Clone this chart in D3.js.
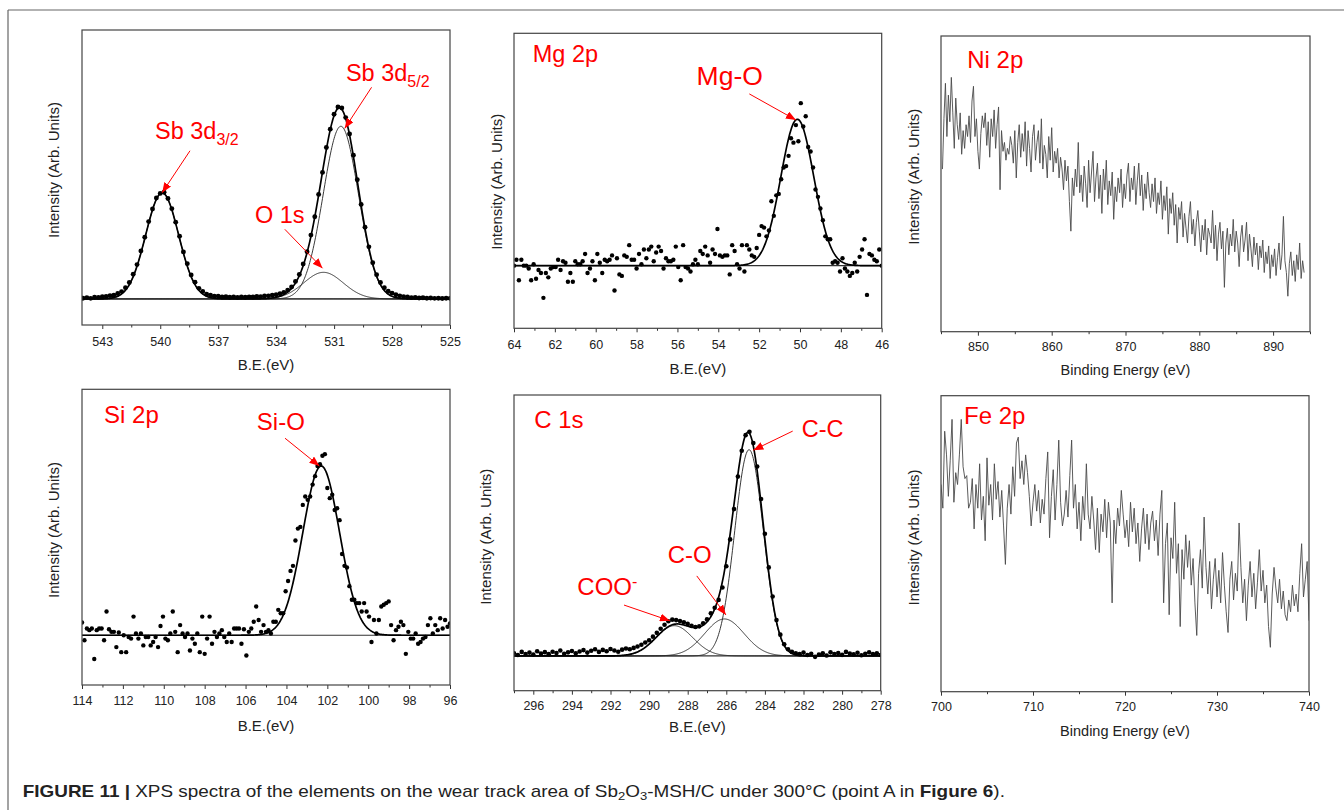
<!DOCTYPE html>
<html>
<head>
<meta charset="utf-8">
<script src="https://cdn.jsdelivr.net/npm/d3@7"></script>
<style>
  body { margin: 0; background: #fff; }
  svg text { font-family: "Liberation Sans", Arial, sans-serif; }
</style>
</head>
<body>
<svg id="fig" width="1344" height="810"></svg>
<script>
// ---- data ----

// Sb 3d / O 1s  (B.E. grid: start, step)
const sbStart = 544.0, sbStep = -0.2;
const sbCounts = [
  0.004,0.007,0.003,0.009,0.008,0.012,0.013,0.017,0.019,0.028,
  0.038,0.058,0.085,0.128,0.178,0.249,0.320,0.401,0.466,0.523,
  0.547,0.553,0.521,0.468,0.398,0.325,0.244,0.183,0.124,0.087,
  0.055,0.039,0.025,0.020,0.014,0.014,0.011,0.012,0.009,0.011,
  0.008,0.011,0.009,0.011,0.010,0.013,0.012,0.015,0.016,0.019,
  0.022,0.027,0.034,0.046,0.062,0.091,0.127,0.181,0.245,0.331,
  0.426,0.542,0.656,0.785,0.880,0.957,0.995,0.990,0.940,0.855,
  0.745,0.618,0.490,0.372,0.270,0.188,0.126,0.085,0.058,0.040,
  0.030,0.022,0.016,0.012,0.010,0.007,0.008,0.005,0.006,0.004,
  0.005,0.003,0.004,0.002,0.004,0.003
];
const sbPeakCenter = [539.9, 530.65, 531.55];
const sbPeakHeight = [0.55, 0.895, 0.138];
const sbPeakFwhm   = [2.0, 2.15, 2.4];

// Mg 2p
const mgStart = 64.0, mgStep = -0.12;
const mgCounts = [
  0.00,0.04,-0.10,0.04,0.00,0.00,-0.02,-0.10,0.01,-0.09,-0.03,
  -0.05,-0.22,-0.05,-0.08,-0.02,-0.01,-0.01,0.04,-0.03,0.03,
  0.02,
  -0.11,-0.05,-0.11,0.03,0.01,0.01,0.03,0.08,-0.05,-0.02,
  0.03,-0.10,0.08,0.02,-0.05,0.04,0.03,0.04,0.07,-0.17,
  0.05,
  -0.06,-0.07,0.07,0.06,0.14,0.04,0.04,-0.02,0.08,0.01,
  0.11,0.05,0.11,0.13,0.03,
  0.09,
  0.13,0.10,-0.02,0.05,0.03,
  0.03,0.04,0.13,-0.01,-0.10,0.14,-0.01,-0.02,-0.04,0.01,
  0.04,
  0.01,0.10,0.08,0.13,0.07,0.02,0.11,0.08,0.25,0.07,
  0.06,0.07,0.07,-0.06,0.14,
  0.10,
  0.01,-0.02,0.14,-0.04,0.14,
  0.11,0.07,0.06,
  0.12,
  0.21,0.27,0.26,0.20,0.24,0.44,0.34,0.48,0.49,0.59,
  0.67,0.68,0.75,0.87,0.84,0.96,0.85,1.11,0.95,1.02,
  0.81,0.78,0.67,0.52,0.47,0.39,0.31,0.20,0.18,0.18,
  0.02,0.03,
  0.02,-0.04,0.05,-0.02,-0.04,-0.07,-0.05,0.02,-0.04,0.06,
  0.11,0.18,-0.20,0.08,0.07,0.04,0.03,0.11,0.00
];
const mgPeakCenter = [50.13];
const mgPeakHeight = [1.0];
const mgPeakFwhm   = [1.9];

// Ni 2p
const niStart = 845.2, niStep = 0.2;
const niCounts = [
  55,72,84,66,
  80,71,86,74,62, 79,70,65,74,60, 68,62,70,66,73, 64,78,83,66,72,
  61,55,67,73,69, 74,63,71,59,72, 66,75,62,70,76, 48,68,61,64,58,
  62,60,66,63,57, 68,52,64,70,59, 67,61,71,56,68, 62,54,66,70,58,
  64,68,57,72,55, 63,60,52,66,58, 69,54,61,57,62, 52,59,55,48,58,
  51,56,44,34,52, 46,55,49,64,47, 53,44,56,50,42, 58,47,54,61,44,
  52,57,45,53,40, 55,48,58,43,51, 46,54,38,49,44, 52,47,55,42,50,
  45,53,57,44,52, 48,56,43,51,57, 46,53,41,50,45, 54,47,42,50,44,
  52,40,47,43,51, 38,46,41,49,33, 45,40,47,36,43, 30,42,38,44,32,
  40,35,30,39,44, 33,38,29,37,41, 34,27,36,31,38, 26,35,33,30,41,
  28,36,24,33,37, 28,34,15,30,35, 26,33,29,38,27, 34,30,22,32,36,
  27,31,37,24,33, 28,22,32,26,30, 21,29,25,31,20, 27,23,29,18,26,
  22,28,19,25,30, 21,26,39,24,20, 12,23,27,19,24, 17,26,21,30,18,
  24,20
];

// Si 2p
const siStart = 114.0, siStep = -0.12;
const siCounts = [
  0.075,-0.03,0.04,0.03,0.04,-0.14,0.03,0.04,0.04,-0.03,
  0.14,0.035,0.02,0.02,-0.07,0.016,-0.10,0.00,-0.10,-0.01,
  -0.02,0.11,0.01,-0.02,0.01,-0.06,-0.01,-0.01,-0.06,-0.04,
  -0.01,-0.07,0.055,0.11,-0.02,-0.03,0.01,0.14,0.02,-0.10,
  0.06,0.01,-0.01,0.01,-0.09,-0.02,-0.05,0.01,-0.10,0.11,
  -0.11,-0.02,0.11,-0.05,0.02,-0.01,0.01,0.03,-0.01,-0.04,
  0.01,-0.04,0.04,0.04,0.04,-0.05,0.035,-0.12,0.02,0.04,
  0.08,0.17,0.09,0.02,0.06,0.02,0.03,0.01,0.08,0.08,
  0.15,0.13,0.13,0.26,0.32,0.38,0.41,0.56,0.63,0.64,
  0.77,0.82,0.80,0.82,0.89,0.94,1.00,1.01,1.06,1.07,
  0.87,0.81,0.83,0.74,0.75,0.68,0.48,0.41,0.40,0.29,
  0.21,0.21,0.19,0.19,0.14,0.19,0.14,0.11,-0.04,0.09,
  0.01,0.09,0.17,0.18,0.19,0.20,0.06,-0.03,0.03,0.05,
  0.08,0.06,-0.11,0.02,-0.02,-0.02,0.01,-0.05,-0.04,-0.02,
  -0.01,0.06,0.10,0.01,0.06,0.03,0.10,0.04,0.09,0.05,
  0.07
];
const siPeakCenter = [102.3];
const siPeakHeight = [1.0];
const siPeakFwhm   = [2.12];

// C 1s
const cStart = 297.0, cStep = -0.2;
const cCounts = [
  0.012,0.004,0.018,0.009,0.015,0.006,0.021,0.011,0.017,0.008,
  0.019,0.013,0.024,0.010,0.016,0.022,0.012,0.020,0.026,0.015,
  0.023,0.030,0.018,0.027,0.021,0.031,0.024,0.019,0.028,0.033,
  0.030,0.036,0.042,0.050,0.060,0.070,0.086,0.103,0.121,0.139,
  0.155,0.162,0.160,0.156,0.150,0.143,0.134,0.129,0.132,0.146,
  0.163,0.190,0.215,0.250,0.305,0.400,0.520,0.655,0.800,0.915,
  0.985,1.000,0.950,0.845,0.700,0.545,0.395,0.265,0.160,0.095,
  0.052,0.030,0.018,
  0.012,0.008,0.015,0.004,0.010,-0.004,0.006,0.012,0.002,0.016,
  0.009,0.013,0.005,0.018,0.011,0.007,0.014,0.003,0.010,0.016,
  0.008,0.012,0.004
];
const cPeakCenter = [284.82, 286.1, 288.69];
const cPeakHeight = [0.92, 0.165, 0.135];
const cPeakFwhm   = [1.75, 2.4, 2.24];

// Fe 2p
const feStart = 700.0, feStep = 0.2;
const feCounts = [
  70,62,88,80,66, 78,92,64,74,70, 80,92,76,72,73, 62,64,72,55,70,
  62,77,58,66,51, 79,63,70,58,77, 65,71,59,68,56, 43,62,70,60,76,
  66,84,86,72,78, 70,80,74,66,56, 64,70,61,68,57, 65,60,72,81,52,
  66,75,58,70,85, 64,56,60,68,59, 73,85,62,70,55, 64,51,66,58,77,
  60,55,66,58,48, 62,47,60,54,65, 52,64,57,30,58, 50,62,56,68,60,
  52,58,49,64,54, 62,50,57,44,55, 62,50,60,48,57, 61,51,58,46,60,
  68,30,50,57,26, 52,45,64,40,50, 22,48,38,53,42, 51,36,45,30,19,
  40,48,35,59,42, 33,44,28,38,45, 32,41,30,47,36, 27,20,38,44,31,
  40,34,57,42,30, 38,24,36,44,32, 40,28,37,48,34, 41,30,36,22,15,
  33,42,35,30,38, 28,34,26,24,31, 27,36,29,33,27, 40,50,32,38,44,
  24
];

// ---- drawing ----
const svg = d3.select("#fig");
const defs = svg.append("defs");
const RED = "#ff0000";

defs.append("marker")
    .attr("id", "arr")
    .attr("viewBox", "0 0 10 8")
    .attr("refX", 10).attr("refY", 4)
    .attr("markerWidth", 10).attr("markerHeight", 8)
    .attr("markerUnits", "userSpaceOnUse")
    .attr("orient", "auto")
  .append("path")
    .attr("d", "M0,0L10,4L0,8Z")
    .attr("fill", RED);

// outer frame
svg.append("line").attr("x1", 8).attr("y1", 10).attr("x2", 1344).attr("y2", 10)
    .attr("stroke", "#666").attr("stroke-width", 1.2);
svg.append("line").attr("x1", 8).attr("y1", 10).attr("x2", 8).attr("y2", 810)
    .attr("stroke", "#666").attr("stroke-width", 1.2);

function gauss(e, c, h, w) {
    return h * Math.exp(-4 * Math.LN2 * (e - c) * (e - c) / (w * w));
}

function series(start, step, counts) {
    return counts.map((v, i) => [start + i * step, v]);
}

function setupPanel(p) {
    const x = d3.scaleLinear().domain(p.xDomain).range([p.left, p.right]);
    const y = d3.scaleLinear().domain(p.yDomain).range([p.bottom, p.top]);
    const g = svg.append("g");

    defs.append("clipPath").attr("id", "clip-" + p.id)
      .append("rect")
        .attr("x", p.left).attr("y", p.top)
        .attr("width", p.right - p.left).attr("height", p.bottom - p.top);

    const plot = g.append("g").attr("clip-path", "url(#clip-" + p.id + ")");

    const pad = p.tickLabelY - p.bottom - 4 - 4.4;
    g.append("g")
        .attr("transform", "translate(0," + p.bottom + ")")
        .call(d3.axisBottom(x).tickValues(p.major).tickSize(4).tickPadding(pad).tickFormat(d3.format("d")))
        .call(a => {
            a.select(".domain").remove();
            a.attr("font-size", 12.5);
            a.selectAll("line").attr("stroke", "#333");
            a.selectAll("text").attr("fill", "#222");
        });
    g.append("g")
        .attr("transform", "translate(0," + p.bottom + ")")
        .call(d3.axisBottom(x).tickValues(p.minor).tickSize(2.5).tickFormat(""))
        .call(a => {
            a.select(".domain").remove();
            a.selectAll("line").attr("stroke", "#333");
        });

    g.append("rect")
        .attr("x", p.left).attr("y", p.top)
        .attr("width", p.right - p.left).attr("height", p.bottom - p.top)
        .attr("fill", "none").attr("stroke", "#444").attr("stroke-width", 1.2);

    g.append("text")
        .attr("x", (p.left + p.right) / 2).attr("y", p.xTitleY)
        .attr("dy", "0.35em")
        .attr("text-anchor", "middle")
        .attr("font-size", p.xTitleSize).attr("fill", "#222")
        .text(p.xTitle);

    g.append("text")
        .attr("transform", "translate(" + p.yTitleX + "," + p.yTitleY + ") rotate(-90)")
        .attr("dy", "0.35em")
        .attr("text-anchor", "middle")
        .attr("font-size", 15).attr("fill", "#222")
        .text("Intensity (Arb. Units)");

    return { x, y, g, plot };
}

function drawFit(P, centers, heights, fwhms, components) {
    const [lo, hi] = d3.extent(P.x.domain());
    const xs = d3.range(lo, hi + 0.03, 0.03);
    const line = d3.line().x(d => P.x(d[0])).y(d => P.y(d[1]));

    P.plot.append("line")
        .attr("x1", P.x.range()[0]).attr("x2", P.x.range()[1])
        .attr("y1", P.y(0)).attr("y2", P.y(0))
        .attr("stroke", "#333").attr("stroke-width", 1.2);

    if (components) {
        centers.forEach((c, k) => {
            P.plot.append("path")
                .datum(xs.map(e => [e, gauss(e, c, heights[k], fwhms[k])]))
                .attr("d", line)
                .attr("fill", "none").attr("stroke", "#222").attr("stroke-width", 0.9);
        });
    }
    P.plot.append("path")
        .datum(xs.map(e => [e, d3.sum(centers, (c, k) => gauss(e, c, heights[k], fwhms[k]))]))
        .attr("d", line)
        .attr("fill", "none").attr("stroke", "#000").attr("stroke-width", 1.7);
}

function drawDots(P, data, r) {
    P.plot.append("g").selectAll("circle")
        .data(data)
        .join("circle")
        .attr("cx", d => P.x(d[0]))
        .attr("cy", d => P.y(d[1]))
        .attr("r", r)
        .attr("fill", "#000");
}

function drawTrace(P, data) {
    P.plot.append("path")
        .datum(data)
        .attr("d", d3.line().x(d => P.x(d[0])).y(d => P.y(d[1])))
        .attr("fill", "none").attr("stroke", "#4a4a4a").attr("stroke-width", 0.9);
}

function label(P, spec) {
    const t = P.g.append("text")
        .attr("x", P.x(spec.be)).attr("y", P.y(spec.v))
        .attr("font-size", spec.size).attr("fill", RED)
        .text(spec.text);
    if (spec.sub) {
        t.append("tspan").attr("font-size", 16).attr("dy", 6).text(spec.sub);
    }
    if (spec.sup) {
        t.append("tspan").attr("font-size", 16).attr("dy", -8).text(spec.sup);
    }
}

function arrow(P, from, to) {
    P.g.append("line")
        .attr("x1", P.x(from[0])).attr("y1", P.y(from[1]))
        .attr("x2", P.x(to[0])).attr("y2", P.y(to[1]))
        .attr("stroke", RED).attr("stroke-width", 1)
        .attr("marker-end", "url(#arr)");
}

// --- Sb 3d ---
const pSb = setupPanel({
    id: "sb", left: 82, right: 450, top: 30, bottom: 325,
    xDomain: [544.05, 525], yDomain: [-0.135, 1.394],
    major: [543, 540, 537, 534, 531, 528, 525],
    minor: [541.5, 538.5, 535.5, 532.5, 529.5, 526.5],
    tickLabelY: 341.7, xTitle: "B.E.(eV)", xTitleY: 365, xTitleSize: 15,
    yTitleX: 53.3, yTitleY: 170
});
drawFit(pSb, sbPeakCenter, sbPeakHeight, sbPeakFwhm, true);
drawDots(pSb, series(sbStart, sbStep, sbCounts), 2.45);
label(pSb, { text: "Sb 3d", sub: "5/2", be: 530.39, v: 1.131, size: 23.5 });
label(pSb, { text: "Sb 3d", sub: "3/2", be: 540.27, v: 0.827, size: 23.5 });
label(pSb, { text: "O 1s", be: 535.10, v: 0.395, size: 23.5 });
arrow(pSb, [529.06, 1.097], [530.45, 0.884]);
arrow(pSb, [538.46, 0.768], [539.90, 0.551]);
arrow(pSb, [533.55, 0.361], [531.60, 0.159]);

// --- Mg 2p ---
const pMg = setupPanel({
    id: "mg", left: 514, right: 881.7, top: 33.3, bottom: 328.3,
    xDomain: [64, 46], yDomain: [-0.428, 1.587],
    major: d3.range(64, 45, -2),
    minor: d3.range(63, 46, -2),
    tickLabelY: 345, xTitle: "B.E.(eV)", xTitleY: 368.3, xTitleSize: 15,
    yTitleX: 496.7, yTitleY: 181.7
});
drawFit(pMg, mgPeakCenter, mgPeakHeight, mgPeakFwhm, false);
drawDots(pMg, series(mgStart, mgStep, mgCounts), 2.2);
label(pMg, { text: "Mg 2p", be: 63.08, v: 1.393, size: 23.5 });
label(pMg, { text: "Mg-O", be: 55.06, v: 1.234, size: 26.5 });
arrow(pMg, [52.48, 1.173], [50.20, 0.995]);

// --- Ni 2p ---
const pNi = setupPanel({
    id: "ni", left: 941, right: 1310, top: 36, bottom: 331.7,
    xDomain: [845, 895], yDomain: [0, 100],
    major: [850, 860, 870, 880, 890],
    minor: [845, 855, 865, 875, 885, 895],
    tickLabelY: 346.7, xTitle: "Binding Energy (eV)", xTitleY: 370, xTitleSize: 14.5,
    yTitleX: 913.3, yTitleY: 176.7
});
drawTrace(pNi, series(niStart, niStep, niCounts));
label(pNi, { text: "Ni 2p", be: 848.56, v: 89.1, size: 24 });

// --- Si 2p ---
const pSi = setupPanel({
    id: "si", left: 82, right: 450, top: 389.3, bottom: 685,
    xDomain: [114, 96], yDomain: [-0.294, 1.453],
    major: d3.range(114, 95, -2),
    minor: d3.range(113, 96, -2),
    tickLabelY: 700.7, xTitle: "B.E.(eV)", xTitleY: 725.5, xTitleSize: 15,
    yTitleX: 53.3, yTitleY: 530
});
drawFit(pSi, siPeakCenter, siPeakHeight, siPeakFwhm, false);
drawDots(pSi, series(siStart, siStep, siCounts), 2.2);
label(pSi, { text: "Si 2p", be: 112.92, v: 1.256, size: 24 });
label(pSi, { text: "Si-O", be: 105.45, v: 1.213, size: 24 });
arrow(pSi, [104.07, 1.164], [102.39, 1.0]);

// --- C 1s ---
const pC = setupPanel({
    id: "c", left: 514, right: 880.7, top: 395, bottom: 690.7,
    xDomain: [297, 278], yDomain: [-0.155, 1.164],
    major: d3.range(296, 277, -2),
    minor: d3.range(297, 278, -2),
    tickLabelY: 706, xTitle: "B.E.(eV)", xTitleY: 727, xTitleSize: 15,
    yTitleX: 485.7, yTitleY: 536.7
});
drawFit(pC, cPeakCenter, cPeakHeight, cPeakFwhm, true);
drawDots(pC, series(cStart, cStep, cCounts), 2.3);
label(pC, { text: "C 1s", be: 295.95, v: 1.015, size: 24 });
label(pC, { text: "C-C", be: 282.09, v: 0.975, size: 23.5 });
label(pC, { text: "C-O", be: 289.04, v: 0.416, size: 24 });
label(pC, { text: "COO", sup: "-", be: 293.72, v: 0.272, size: 24 });
arrow(pC, [282.56, 1.003], [284.60, 0.918]);
arrow(pC, [287.53, 0.357], [286.02, 0.183]);
arrow(pC, [291.30, 0.227], [288.92, 0.157]);

// --- Fe 2p ---
const pFe = setupPanel({
    id: "fe", left: 941, right: 1309, top: 395.7, bottom: 691.7,
    xDomain: [700, 740], yDomain: [0, 100],
    major: [700, 710, 720, 730, 740],
    minor: [705, 715, 725, 735],
    tickLabelY: 706.7, xTitle: "Binding Energy (eV)", xTitleY: 731, xTitleSize: 14.5,
    yTitleX: 913.3, yTitleY: 537.5
});
drawTrace(pFe, series(feStart, feStep, feCounts));
label(pFe, { text: "Fe 2p", be: 702.5, v: 90.3, size: 24 });

// --- caption ---
const capG = svg.append("g").attr("transform", "translate(22.7,797)");
const cap = capG.append("text")
    .attr("font-size", 16).attr("fill", "#222")
    .style("font-family", '"Liberation Sans Narrow", "Liberation Sans", Arial, sans-serif');
cap.append("tspan").attr("font-weight", "bold").text("FIGURE 11 | ");
cap.append("tspan").text("XPS spectra of the elements on the wear track area of Sb");
cap.append("tspan").attr("font-size", 11).attr("dy", 3).text("2");
cap.append("tspan").attr("dy", -3).text("O");
cap.append("tspan").attr("font-size", 11).attr("dy", 3).text("3");
cap.append("tspan").attr("dy", -3).text("-MSH/C under 300\u00B0C (point A in ");
cap.append("tspan").attr("font-weight", "bold").text("Figure 6");
cap.append("tspan").text(").");
const capW = cap.node().getComputedTextLength();
capG.attr("transform", "translate(22.7,797) scale(" + (983 / capW) + ",1)");
</script>
</body>
</html>
